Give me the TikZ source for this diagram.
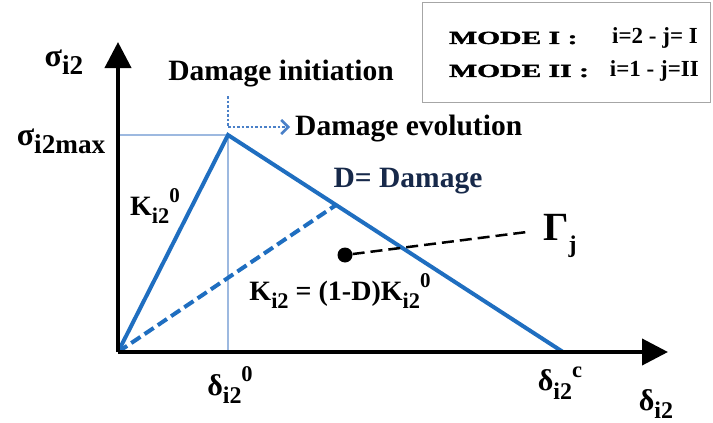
\documentclass[tikz,border=0pt]{standalone}
\usepackage{fontspec}
\setmainfont{Liberation Serif}
\newfontfamily\modefont[FakeBold=1.5]{Liberation Serif Bold}
\usetikzlibrary{arrows.meta}
\definecolor{lineblue}{HTML}{1F6EC0}
\definecolor{lightblue}{HTML}{9DB9E0}
\definecolor{dotblue}{HTML}{4A80C8}
\definecolor{navy}{HTML}{17294A}
\newcommand\lsub[1]{\raisebox{-0.28em}{\scalebox{0.8}{#1}}}
\newcommand\lsubb[1]{\raisebox{-0.25em}{\scalebox{0.85}{#1}}}
\newcommand\lsup[1]{\raisebox{0.45em}{\scalebox{0.75}{#1}}}
\newcommand\modecaps[1]{\scalebox{1.6}[1]{\modefont\fontsize{18.5}{20}\selectfont #1}}
\tikzset{
  axis/.style={line width=4pt,-{Triangle[length=26pt,width=26pt]}},
  law/.style={lineblue,line width=4pt},
  guide/.style={lightblue,line width=1.5pt},
  title/.style={inner sep=0pt,font=\fontsize{29.5}{31}\selectfont\bfseries},
  lbl/.style={inner sep=0pt,font=\fontsize{28}{30}\selectfont\bfseries},
  sym/.style={inner sep=0pt,font=\fontsize{30}{32}\selectfont\bfseries},
  bigsym/.style={inner sep=0pt,font=\fontsize{32}{34}\selectfont\bfseries},
  mode/.style={inner sep=0pt,font=\fontsize{23}{25}\selectfont\bfseries},
}
\begin{document}
\begin{tikzpicture}[x=1pt,y=-1pt]
\useasboundingbox (0,0) rectangle (713,423);
% coordinates
\coordinate (O) at (118,352);
\coordinate (P) at (228,135);
\coordinate (C) at (563,352);
\coordinate (Y) at (118,42);
\coordinate (X) at (668,352);
\coordinate (Smax) at (118,135);
\coordinate (D0) at (228,352);
\coordinate (Q) at (336,205);
\coordinate (Dt) at (228,96);
\coordinate (Dc) at (228,127);
\coordinate (Dr) at (290,127);
\coordinate (G) at (527,232);
% legend box
\node[draw=gray!70,line width=1pt,minimum width=288pt,minimum height=100pt,anchor=north west,inner sep=0pt] (box) at (422,2) {};
\node[mode,anchor=west] (m1) at (449,38) {\modecaps{MODE I :}};
\node[mode,anchor=east] (e1) at (698,38) {i=2 - j= I};
\node[mode,anchor=west] (m2) at (449,71) {\modecaps{MODE II :}};
\node[mode,anchor=east] (e2) at (699,71) {i=1 - j=II};
% guides
\draw[guide] (Smax) -- (P);
\draw[guide] (P) -- (D0);
% law
\draw[law] (O) -- (P) -- (C);
\draw[law,dash pattern=on 11pt off 5pt] (O) -- (Q);
% dotted arrow
\draw[dotblue,line width=2pt,dash pattern=on 2.5pt off 2pt] (Dt) -- (Dc);
\draw[dotblue,line width=2pt,dash pattern=on 2.5pt off 2pt,-{Straight Barb[length=7pt,width=14pt,line width=2.5pt]}] (Dc) -- (Dr);
% axes
\draw[axis] (O) -- (Y);
\draw[axis] (O) -- (X);
% point and Gamma
\node[circle,fill=black,minimum size=15pt,inner sep=0pt] (pt) at (345,255) {};
\draw[line width=2.5pt,dash pattern=on 12pt off 6pt] (pt) -- (G);
\node[inner sep=0pt,anchor=west,font=\fontsize{40}{42}\selectfont\bfseries] (gam) at (543,236) {Γ\lsub{\fontsize{30}{30}\selectfont j}};
% labels
\node[title] (init) at (281,74) {Damage initiation};
\node[title,anchor=west] (evol) at (295,129) {Damage evolution};
\node[title,text=navy] (dmg) at (408,181) {D= Damage};
\node[lbl] (k0) at (155,206) {K\lsub{i2}\lsup{0}};
\node[lbl] (kd) at (340,291) {K\lsub{i2} = (1-D)K\lsub{i2}\lsup{0}};
\node[bigsym] (sy) at (64,62) {σ\lsubb{i2}};
\node[bigsym] (smax) at (61,141) {σ\lsubb{i2max}};
\node[sym] (d0) at (230,385) {δ\lsub{i2}\lsup{0}};
\node[sym] (dc) at (560,383) {δ\lsub{i2}\lsup{c}};
\node[sym] (dx) at (656,404) {δ\lsub{i2}};
\end{tikzpicture}
\end{document}
